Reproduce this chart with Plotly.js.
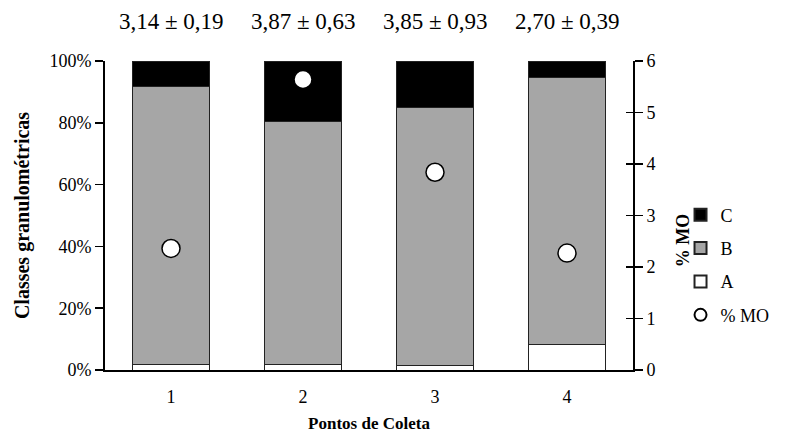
<!DOCTYPE html>
<html>
<head>
<meta charset="utf-8">
<script src="https://cdn.plot.ly/plotly-3.0.1.min.js"></script>
<style>
  html, body { margin: 0; padding: 0; background: #fff; }
  #chart { width: 789px; height: 437px; }
</style>
</head>
<body>
<div id="chart"></div>
<script>
// Sampling points and grain-size class shares (%)
const pontos = ['1', '2', '3', '4'];
const classeA = [1.8, 1.8, 1.5, 8.4];
const classeB = [89.8, 78.5, 83.5, 86.4];
const classeC = [8.4, 19.7, 15.0, 5.2];
// Organic matter (%)
const mo = [2.36, 5.64, 3.84, 2.27];
// Values printed above each column
const rotulos = ['3,14 ± 0,19', '3,87 ± 0,63', '3,85 ± 0,93', '2,70 ± 0,39'];
// Left axis ticks
const pctVals = [0, 20, 40, 60, 80, 100];
const pctText = ['0%', '20%', '40%', '60%', '80%', '100%'];

const serif = 'Liberation Serif, Times New Roman, serif';
const barLine = { color: '#222', width: 1 };

const traces = [
  { type: 'bar', name: 'A', x: pontos, y: classeA, yaxis: 'y',
    marker: { color: '#ffffff', line: barLine }, legendrank: 3, legendgroup: 'a' },
  { type: 'bar', name: 'B', x: pontos, y: classeB, yaxis: 'y',
    marker: { color: '#a6a6a6', line: barLine }, legendrank: 2, legendgroup: 'b' },
  { type: 'bar', name: 'C', x: pontos, y: classeC, yaxis: 'y',
    marker: { color: '#000000', line: barLine }, legendrank: 1, legendgroup: 'c' },
  { type: 'scatter', mode: 'markers', name: '% MO', x: pontos, y: mo, yaxis: 'y2',
    marker: { symbol: 'circle', size: 18, color: '#ffffff', line: { color: '#000', width: 1.5 } },
    legendrank: 4, legendgroup: 'mo' },
  // companion axis so the right-hand ticks cross the axis line
  { type: 'scatter', mode: 'markers', x: pontos, y: mo, yaxis: 'y3',
    marker: { size: 0, opacity: 0 }, showlegend: false, hoverinfo: 'skip' }
];

const annotations = pontos.map((p, i) => ({
  x: i, xref: 'x', y: 1, yref: 'paper', yanchor: 'middle', yshift: 40,
  text: rotulos[i], showarrow: false,
  font: { family: serif, size: 23, color: '#000' }
}));
// right axis title
annotations.push({
  x: 1, xref: 'paper', xshift: 50, y: 0.42, yref: 'paper',
  text: '<b>% MO</b>', textangle: -90, showarrow: false,
  xanchor: 'center', yanchor: 'middle',
  font: { family: serif, size: 18, color: '#000' }
});

const layout = {
  width: 789, height: 437,
  margin: { l: 105, r: 156, t: 61, b: 67 },
  paper_bgcolor: '#fff', plot_bgcolor: '#fff',
  barmode: 'stack', bargap: 0.42,
  font: { family: serif, color: '#000' },
  showlegend: true,
  legend: {
    x: 1.09, xanchor: 'left', y: 0.34, yanchor: 'middle',
    traceorder: 'grouped', tracegroupgap: 7, itemsizing: 'constant',
    font: { family: serif, size: 18, color: '#000' },
    itemwidth: 30
  },
  xaxis: {
    type: 'category', range: [-0.5, 3.5],
    showline: true, linecolor: '#000', linewidth: 2,
    ticks: '', showgrid: false, zeroline: false, ticklabelstandoff: 9,
    tickfont: { family: serif, size: 18, color: '#000' },
    title: { text: '<b>Pontos de Coleta</b>', standoff: 12,
             font: { family: serif, size: 17, color: '#000' } }
  },
  yaxis: {
    range: [0, 100], tickmode: 'array', tickvals: pctVals, ticktext: pctText,
    showline: true, linecolor: '#000', linewidth: 2,
    ticks: 'outside', ticklen: 8, tickwidth: 1.5, tickcolor: '#000',
    showgrid: false, zeroline: false,
    tickfont: { family: serif, size: 18, color: '#000' },
    title: { text: '<b>Classes granulométricas</b>', standoff: 14,
             font: { family: serif, size: 20, color: '#000' } }
  },
  yaxis2: {
    overlaying: 'y', side: 'right', range: [0, 6], dtick: 1,
    showline: true, linecolor: '#000', linewidth: 2,
    ticks: 'outside', ticklen: 8, tickwidth: 1.5, tickcolor: '#000',
    showgrid: false, zeroline: false,
    tickfont: { family: serif, size: 18, color: '#000' }
  },
  yaxis3: {
    overlaying: 'y', side: 'right', anchor: 'x', range: [0, 6], dtick: 1,
    showline: false, ticks: 'inside', ticklen: 7, tickwidth: 1.5, tickcolor: '#000',
    showticklabels: false, showgrid: false, zeroline: false
  },
  annotations: annotations
};

Plotly.newPlot('chart', traces, layout, { displayModeBar: false, staticPlot: true });
</script>
</body>
</html>
